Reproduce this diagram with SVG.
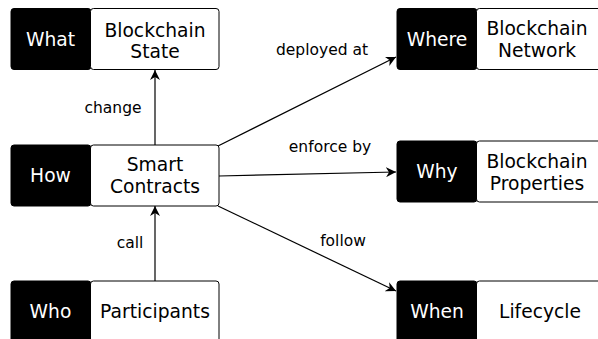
<svg xmlns="http://www.w3.org/2000/svg" width="598" height="339" viewBox="0 0 598 339">
<defs>
<marker id="ah" viewBox="0 0 10 10" refX="10" refY="5" markerWidth="10" markerHeight="10" markerUnits="userSpaceOnUse" orient="auto">
<path d="M0,0 L10,5 L0,10 L3,5 Z" fill="#000"/>
</marker>
</defs>
<style>
.k{fill:#000;stroke:#000;stroke-width:1}
.w{fill:#fff;stroke:#000;stroke-width:1}
.tk{font-family:"DejaVu Sans",sans-serif;font-size:18.7px;fill:#fff;text-anchor:middle}
.tw{font-family:"DejaVu Sans",sans-serif;font-size:18.7px;fill:#000;text-anchor:middle}
.lb{font-family:"DejaVu Sans",sans-serif;font-size:15.5px;fill:#000;text-anchor:middle}
.e{stroke:#000;stroke-width:1.2;fill:none;marker-end:url(#ah)}
</style>
<g id="connectors">
<line class="e" x1="155" y1="145" x2="155" y2="70"/>
<line class="e" x1="155" y1="281" x2="155" y2="206"/>
<line class="e" x1="218" y1="146" x2="396" y2="57"/>
<line class="e" x1="219" y1="176" x2="396" y2="172"/>
<line class="e" x1="218" y1="206" x2="396" y2="291"/>
<text class="lb" x="113" y="113">change</text>
<text class="lb" x="130" y="248">call</text>
<text class="lb" x="322" y="55">deployed at</text>
<text class="lb" x="330" y="152">enforce by</text>
<text class="lb" x="343" y="246">follow</text>
</g>
<g id="what">
<rect class="k" x="11" y="8.5" width="80" height="61" rx="3"/>
<rect class="w" x="90.5" y="8.5" width="128.5" height="61" rx="3"/>
<text class="tk" x="50.5" y="46">What</text>
<text class="tw" x="155" y="37">Blockchain</text>
<text class="tw" x="155" y="58">State</text>
</g>
<g id="how">
<rect class="k" x="11" y="145" width="80" height="61" rx="3"/>
<rect class="w" x="90.5" y="145" width="128.5" height="61" rx="3"/>
<text class="tk" x="50.5" y="182">How</text>
<text class="tw" x="155" y="171">Smart</text>
<text class="tw" x="155" y="193">Contracts</text>
</g>
<g id="who">
<rect class="k" x="11" y="281" width="80" height="64" rx="3"/>
<rect class="w" x="90.5" y="281" width="128.5" height="64" rx="3"/>
<text class="tk" x="50.5" y="318">Who</text>
<text class="tw" x="155" y="318">Participants</text>
</g>
<g id="where">
<rect class="k" x="397" y="8.5" width="80" height="61" rx="3"/>
<rect class="w" x="476.5" y="8.5" width="125" height="61" rx="3"/>
<text class="tk" x="437" y="46">Where</text>
<text class="tw" x="537" y="35">Blockchain</text>
<text class="tw" x="537" y="57">Network</text>
</g>
<g id="why">
<rect class="k" x="397" y="141" width="80" height="61" rx="3"/>
<rect class="w" x="476.5" y="141" width="125" height="61" rx="3"/>
<text class="tk" x="437" y="178">Why</text>
<text class="tw" x="537" y="168">Blockchain</text>
<text class="tw" x="537" y="190">Properties</text>
</g>
<g id="when">
<rect class="k" x="397" y="281" width="80" height="64" rx="3"/>
<rect class="w" x="476.5" y="281" width="125" height="64" rx="3"/>
<text class="tk" x="437" y="318">When</text>
<text class="tw" x="540" y="318">Lifecycle</text>
</g>
</svg>
